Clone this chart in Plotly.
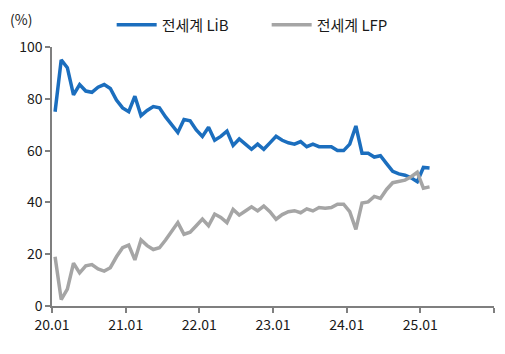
import plotly.graph_objects as go

# Monthly data, 2020.01 - 2025.02 (share, %)
months = [f"{y:02d}.{m:02d}" for y in range(20, 26) for m in range(1, 13)][:62]

lib_share = [75, 95, 92, 81.5, 85.5, 83, 82.5, 84.5, 85.5, 84, 79.5, 76.5,
             75, 81, 73.5, 75.5, 77, 76.5, 73, 70, 67, 72, 71.5, 68,
             65.5, 69, 64, 65.5, 67.5, 62, 64.5, 62.5, 60.5, 62.5, 60.5, 63,
             65.5, 64, 63, 62.5, 63.5, 61.5, 62.5, 61.5, 61.5, 61.5, 60, 60,
             62.5, 69.5, 59, 59, 57.5, 58, 55, 52, 51, 50.5, 49.5, 48,
             53.5, 53.3]

lfp_share = [19, 2.5, 6.5, 16.5, 12.8, 15.5, 16, 14.3, 13.5, 14.8, 19, 22.5,
             23.5, 17.8, 25.5, 23.3, 21.8, 22.5, 25.5, 29, 32.2, 27.7, 28.5, 31,
             33.6, 31, 35.5, 34.2, 32.2, 37.3, 35.1, 36.7, 38.3, 36.7, 38.6, 36.4,
             33.5, 35.3, 36.4, 36.8, 36, 37.5, 36.7, 38, 37.7, 38, 39.3, 39.3,
             36.4, 29.6, 39.8, 40.2, 42.3, 41.5, 45, 47.6, 48.2, 48.6, 49.9, 51.6,
             45.5, 46]

tick_labels = ["20.01", "21.01", "22.01", "23.01", "24.01", "25.01", ""]
y_ticks = [0, 20, 40, 60, 80, 100]

# category positions (points sit in the middle of each month slot)
xpos = [i + 0.5 for i in range(len(months))]
tickpos = [12 * k for k in range(len(tick_labels))]

FONT = "Noto Sans CJK KR"

fig = go.Figure()
fig.add_trace(go.Scatter(x=xpos, y=lib_share, mode="lines", name="전세계 LiB",
                         line=dict(color="#1B6EBE", width=3.5),
                         customdata=months))
fig.add_trace(go.Scatter(x=xpos, y=lfp_share, mode="lines", name="전세계 LFP",
                         line=dict(color="#A5A5A5", width=3.5),
                         customdata=months))

fig.update_layout(
    width=505, height=354,
    margin=dict(l=52, r=11, t=47, b=48, autoexpand=False),
    paper_bgcolor="white", plot_bgcolor="white",
    font=dict(family=FONT, size=14, color="#1a1a1a"),
    showlegend=True,
    legend=dict(orientation="h", x=0.135, xanchor="left", y=1.085, yanchor="middle",
                font=dict(family=FONT, size=15, color="#1a1a1a"),
                itemwidth=40, entrywidth=100, tracegroupgap=0,
                bgcolor="rgba(0,0,0,0)"),
    xaxis=dict(range=[0, 72], tickmode="array", tickvals=tickpos, ticktext=tick_labels,
               showgrid=False, zeroline=False, showline=True, linecolor="#7F7F7F",
               linewidth=1.5, ticks="outside", ticklen=5, tickcolor="#7F7F7F",
               tickwidth=1.5, tickfont=dict(family=FONT, size=14)),
    yaxis=dict(range=[0, 100], tickmode="array", tickvals=y_ticks,
               showgrid=False, zeroline=False, showline=True, linecolor="#7F7F7F",
               linewidth=1.5, ticks="outside", ticklen=5, tickcolor="#7F7F7F",
               tickwidth=1.5, tickfont=dict(family=FONT, size=14)),
    annotations=[dict(text="(%)", xref="paper", yref="paper", x=-0.07, y=1.11,
                      xanchor="center", yanchor="middle", showarrow=False,
                      font=dict(family=FONT, size=14, color="#1a1a1a"))],
)

fig.write_html("out.html")
